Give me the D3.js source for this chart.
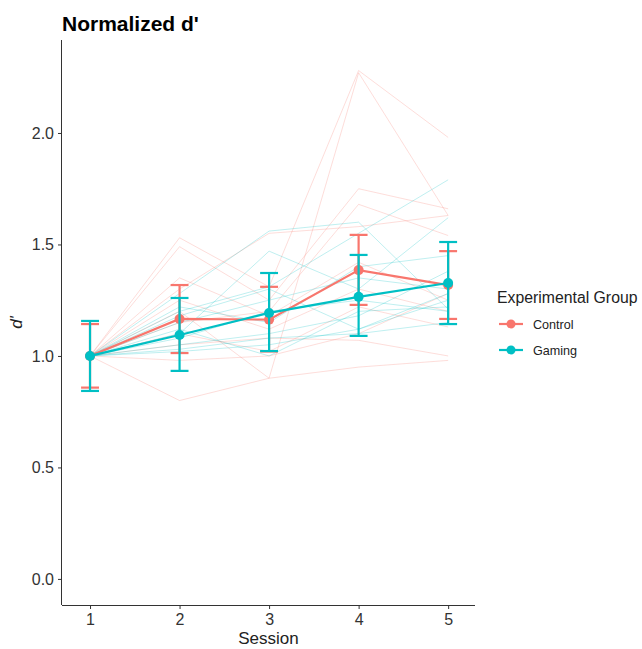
<!DOCTYPE html>
<html>
<head>
<meta charset="utf-8">
<script src="https://cdn.jsdelivr.net/npm/d3@7"></script>
<style>
  body { margin: 0; background: #fff; font-family: "Liberation Sans", Arial, sans-serif; }
  .axis path, .axis line { stroke: #333; }
  .axis text { fill: #333; font-size: 16px; font-family: "Liberation Sans", Arial, sans-serif; }
</style>
</head>
<body>
<div id="chart"></div>
<script>
var sessions = [1, 2, 3, 4, 5];
var groups = ["Control", "Gaming"];
var colors = ["#F8766D", "#00BFC4"];
var yTicks = [0, 0.5, 1, 1.5, 2];

// individual subjects (normalized to session 1)
var controlSubjects = [
  [1, 0.80, 0.90, 0.95, 0.98],
  [1, 1.53, 1.31, 2.28, 1.98],
  [1, 1.20, 0.90, 2.27, 1.63],
  [1, 1.49, 1.25, 1.75, 1.66],
  [1, 1.30, 1.55, 1.58, 1.63],
  [1, 1.15, 1.20, 1.68, 1.54],
  [1, 1.05, 1.08, 1.07, 1.00],
  [1, 1.25, 1.12, 1.30, 1.20],
  [1, 1.10, 1.02, 1.22, 1.13],
  [1, 1.35, 1.18, 1.42, 1.25],
  [1, 0.98, 1.00, 1.10, 1.28]
];
var gamingSubjects = [
  [1, 1.20, 1.31, 1.55, 1.79],
  [1, 1.28, 1.56, 1.60, 1.21],
  [1, 1.10, 1.47, 1.30, 1.62],
  [1, 1.22, 1.15, 1.40, 1.45],
  [1, 1.05, 1.10, 1.18, 1.38],
  [1, 1.02, 1.05, 1.12, 1.25],
  [1, 1.08, 1.20, 1.25, 1.20],
  [1, 1.15, 1.25, 1.35, 1.30],
  [1, 1.03, 1.08, 1.10, 1.15],
  [1, 1.12, 1.00, 1.20, 1.22],
  [1, 1.18, 1.30, 1.12, 1.28]
];

// group means and error bar bounds
var controlMean = [1.0, 1.166, 1.163, 1.385, 1.318];
var controlLow  = [0.858, 1.013, 1.02, 1.229, 1.166];
var controlHigh = [1.143, 1.318, 1.31, 1.543, 1.47];
var gamingMean  = [1.0, 1.094, 1.193, 1.265, 1.327];
var gamingLow   = [0.843, 0.933, 1.022, 1.09, 1.143];
var gamingHigh  = [1.157, 1.26, 1.372, 1.453, 1.511];

var margin = {top: 40, right: 167, bottom: 44, left: 62},
    width = 642 - margin.left - margin.right,
    height = 649 - margin.top - margin.bottom;

var svg = d3.select("#chart").append("svg")
    .attr("width", 642)
    .attr("height", 649);

var x = d3.scaleLinear().domain([0.687, 5.3]).range([0, width]),
    y = d3.scaleLinear().domain([-0.117, 2.417]).range([height, 0]);

var g = svg.append("g")
    .attr("transform", "translate(" + margin.left + "," + margin.top + ")");

var line = d3.line()
    .x(function(d, i) { return x(sessions[i]); })
    .y(function(d) { return y(d); });

// faint subject lines
var subjects = [controlSubjects, gamingSubjects];
subjects.forEach(function(set, k) {
  g.selectAll(".subj" + k)
    .data(set)
    .enter().append("path")
      .attr("class", "subj" + k)
      .attr("d", line)
      .attr("fill", "none")
      .attr("stroke", colors[k])
      .attr("stroke-opacity", 0.25)
      .attr("stroke-width", 1);
});

var summary = [
  {mean: controlMean, low: controlLow, high: controlHigh},
  {mean: gamingMean, low: gamingLow, high: gamingHigh}
];

var capHalf = 0.1;

summary.forEach(function(s, k) {
  var col = colors[k];
  var gg = g.append("g");
  var bars = sessions.map(function(sess, i) {
    return {s: sess, lo: s.low[i], hi: s.high[i]};
  });

  gg.selectAll(".vbar")
    .data(bars)
    .enter().append("line")
      .attr("x1", function(d) { return x(d.s); })
      .attr("x2", function(d) { return x(d.s); })
      .attr("y1", function(d) { return y(d.lo); })
      .attr("y2", function(d) { return y(d.hi); })
      .attr("stroke", col)
      .attr("stroke-width", 2.2);

  ["lo", "hi"].forEach(function(key) {
    gg.selectAll(".cap" + key)
      .data(bars)
      .enter().append("line")
        .attr("x1", function(d) { return x(d.s - capHalf); })
        .attr("x2", function(d) { return x(d.s + capHalf); })
        .attr("y1", function(d) { return y(d[key]); })
        .attr("y2", function(d) { return y(d[key]); })
        .attr("stroke", col)
        .attr("stroke-width", 2.2);
  });

  gg.append("path")
    .attr("d", line(s.mean))
    .attr("fill", "none")
    .attr("stroke", col)
    .attr("stroke-width", 2.2);

  gg.selectAll("circle")
    .data(s.mean)
    .enter().append("circle")
      .attr("cx", function(d, i) { return x(sessions[i]); })
      .attr("cy", function(d) { return y(d); })
      .attr("r", 5)
      .attr("fill", col);
});

// axes
g.append("g")
    .attr("class", "axis")
    .attr("transform", "translate(0," + height + ")")
    .call(d3.axisBottom(x).tickValues(sessions).tickSize(4).tickPadding(5)
      .tickFormat(d3.format("d")))
    .call(function(a) { a.select(".domain").attr("d", "M0,0.5H" + width); });

g.append("g")
    .attr("class", "axis")
    .call(d3.axisLeft(y).tickValues(yTicks).tickSize(4).tickPadding(4)
      .tickFormat(d3.format(".1f")))
    .call(function(a) { a.select(".domain").attr("d", "M-0.5,0V" + height); });

// title and labels
svg.append("text")
    .attr("x", margin.left)
    .attr("y", 31)
    .attr("font-size", 21)
    .attr("font-weight", "bold")
    .attr("fill", "#000")
    .text("Normalized d'");

svg.append("text")
    .attr("x", margin.left + width / 2)
    .attr("y", 644)
    .attr("text-anchor", "middle")
    .attr("font-size", 17)
    .attr("fill", "#222")
    .text("Session");

svg.append("text")
    .attr("transform", "translate(22," + (margin.top + height / 2) + ") rotate(-90)")
    .attr("text-anchor", "middle")
    .attr("font-size", 17)
    .attr("font-style", "italic")
    .attr("fill", "#222")
    .text("d'");

// legend
var legend = svg.append("g").attr("transform", "translate(497,0)");
legend.append("text")
    .attr("x", 0)
    .attr("y", 303)
    .attr("font-size", 15.8)
    .attr("fill", "#222")
    .text("Experimental Group");

groups.forEach(function(name, k) {
  var ly = 324 + k * 26;
  legend.append("line")
    .attr("x1", 2).attr("x2", 26)
    .attr("y1", ly).attr("y2", ly)
    .attr("stroke", colors[k]).attr("stroke-width", 2.2);
  legend.append("circle")
    .attr("cx", 14).attr("cy", ly).attr("r", 4.5)
    .attr("fill", colors[k]);
  legend.append("text")
    .attr("x", 36).attr("y", ly + 4.5)
    .attr("font-size", 12.6)
    .attr("fill", "#222")
    .text(name);
});
</script>
</body>
</html>
